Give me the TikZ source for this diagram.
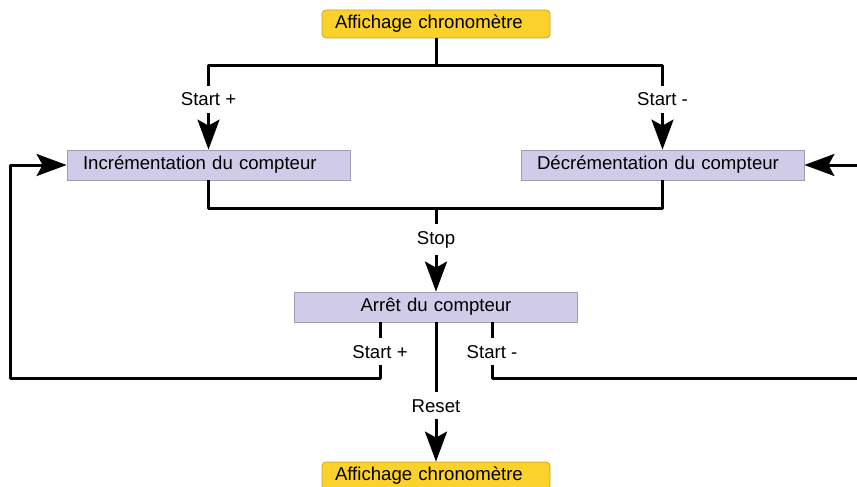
\documentclass[tikz,border=0pt]{standalone}
\usepackage{fontspec}
\setmainfont{Liberation Sans}
\usetikzlibrary{arrows.meta}

\definecolor{jaune}{RGB}{251,209,44}
\definecolor{jauneBord}{RGB}{204,163,38}
\definecolor{mauve}{RGB}{207,203,232}
\definecolor{mauveBord}{RGB}{160,158,174}

\begin{document}
\begin{tikzpicture}[x=1pt,y=-1pt,
  every node/.style={font=\fontsize{18.6}{21}\selectfont},
  affichage/.style={draw=jauneBord,fill=jaune,rounded corners=4pt,line width=0.8pt,
    minimum width=228pt,minimum height=28pt,inner xsep=13pt,text width=202pt,align=left},
  etat/.style={draw=mauveBord,fill=mauve,line width=0.8pt,
    minimum width=283pt,minimum height=30pt,inner xsep=16pt,text width=251pt,align=left},
  lbl/.style={fill=white,inner xsep=5pt,inner ysep=7pt},
  ligne/.style={line width=3pt,line join=round},
  fleche/.style={ligne,-{Stealth[length=30pt,width=22pt,inset=6pt]}}]

\useasboundingbox (0,0) rectangle (857,487);

% les blocs
\node[affichage] (haut) at (436,24) {Affichage chronomètre};
\node[etat] (inc) at (208.5,165) {Incrémentation du compteur};
\node[etat] (dec) at (662.5,165) {Décrémentation du compteur};
\node[etat,align=center] (arret) at (436,307) {Arrêt du compteur};
\node[affichage] (bas) at (436,476) {Affichage chronomètre};

% points de raccord
\coordinate (j1) at (436,66);
\coordinate (j2) at (436,208);
\coordinate (a1) at (380,378);
\coordinate (a2) at (10,378);
\coordinate (b1) at (492,378);
\coordinate (b2) at (866,378);

\draw[ligne] (haut.south) -- (j1);
\draw[fleche] (j1) -| node[lbl,pos=0.7] {Start +} (inc.north);
\draw[fleche] (j1) -| node[lbl,pos=0.7] {Start -} (dec.north);

\draw[ligne] (inc.south) |- (j2) -| (dec.south);
\draw[fleche] (j2) -- node[lbl,pos=0.38] {Stop} (arret.north);

\draw[fleche] (arret.south -| a1) -- node[lbl,pos=0.53] {Start +} (a1) -- (a2) |- (inc.west);
\draw[fleche] (arret.south -| b1) -- node[lbl,pos=0.53] {Start -} (b1) -- (b2) |- (dec.east);

\draw[fleche] (arret.south) -- node[lbl,pos=0.6] {Reset} (bas.north);

\end{tikzpicture}
\end{document}
